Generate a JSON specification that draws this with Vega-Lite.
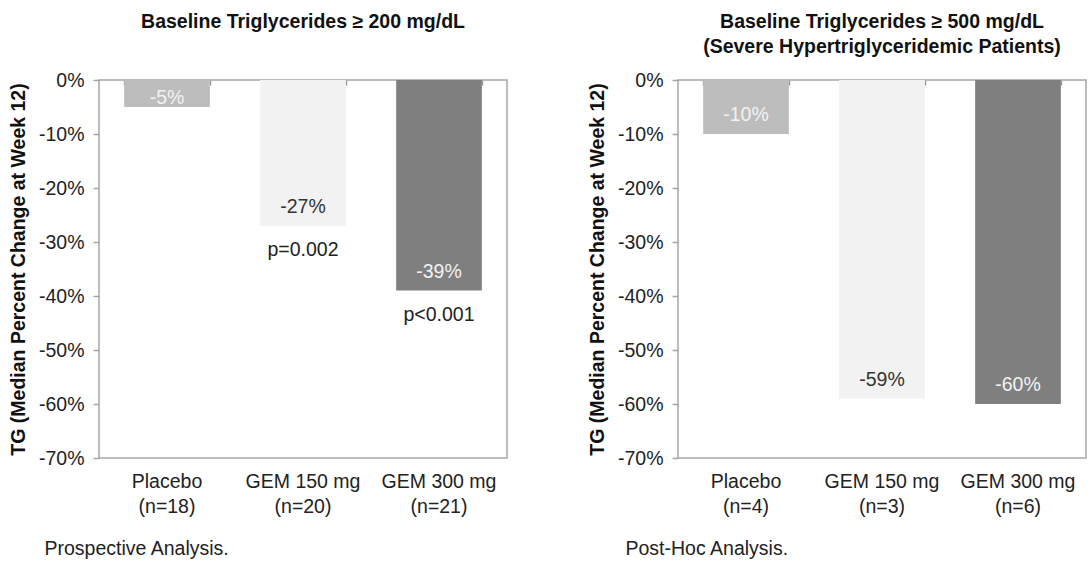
{
  "$schema": "https://vega.github.io/schema/vega-lite/v6.json",
  "background": "white",
  "padding": {"left": 7, "top": 10, "right": 2, "bottom": 2},
  "datasets": {
    "prospective": [
      {"arm": "Placebo", "group": "Placebo (n=18)", "change": -5, "p": null},
      {"arm": "GEM 150 mg", "group": "GEM 150 mg (n=20)", "change": -27, "p": "p=0.002"},
      {"arm": "GEM 300 mg", "group": "GEM 300 mg (n=21)", "change": -39, "p": "p<0.001"}
    ],
    "posthoc": [
      {"arm": "Placebo", "group": "Placebo (n=4)", "change": -10, "p": null},
      {"arm": "GEM 150 mg", "group": "GEM 150 mg (n=3)", "change": -59, "p": null},
      {"arm": "GEM 300 mg", "group": "GEM 300 mg (n=6)", "change": -60, "p": null}
    ]
  },
  "spacing": 78,
  "hconcat": [
    {
      "width": 408,
      "height": 378,
      "title": {"text": ["Baseline Triglycerides ≥ 200 mg/dL", ""]},
      "data": {"name": "prospective"},
      "transform": [{"calculate": "datum.change + '%'", "as": "valueLabel"}],
      "encoding": {
        "y": {"field": "change", "type": "quantitative",
          "scale": {"domain": [-70, 0], "nice": false},
          "axis": {"values": [0, -10, -20, -30, -40, -50, -60, -70], "labelExpr": "datum.value + '%'",
            "tickSize": 6, "labelPadding": 9,
            "title": "TG (Median Percent Change at Week 12)", "titleX": -81, "titleY": 189,
            "titleAngle": -90, "titleBaseline": "middle", "titleAlign": "center",
            "titleFontSize": 19.5, "titleFontWeight": "bold", "titleColor": "#111"}}
      },
      "layer": [
        {
          "encoding": {
            "x": {"field": "group", "type": "nominal", "sort": null,
              "scale": {"paddingInner": 0.37, "paddingOuter": 0.185},
              "axis": {"orient": "bottom", "ticks": false, "domain": false, "labelAngle": 0,
                "labelExpr": "[split(datum.label, ' (')[0], '(' + split(datum.label, ' (')[1]]",
                "labelBaseline": "top", "labelPadding": 14, "labelLineHeight": 25,
                "title": "Prospective Analysis.", "titleAnchor": "start", "titleX": -55, "titleY": 90,
                "titleBaseline": "middle", "titleFontWeight": "normal", "titleFontSize": 19.5, "titleColor": "#222"}}
          },
          "layer": [
            {
              "mark": {"type": "bar"},
              "encoding": {
                "color": {"field": "arm", "type": "nominal",
                  "scale": {"domain": ["Placebo", "GEM 150 mg", "GEM 300 mg"], "range": ["#bdbdbd", "#f2f2f2", "#7f7f7f"]},
                  "legend": null}
              }
            },
            {
              "transform": [{"filter": "datum.change <= -8"}],
              "mark": {"type": "text", "dy": -19, "baseline": "middle", "fontSize": 19.5},
              "encoding": {
                "text": {"field": "valueLabel"},
                "color": {"condition": {"test": "datum.arm === 'GEM 150 mg'", "value": "#333333"}, "value": "#f2f2f2"}
              }
            },
            {
              "transform": [{"filter": "datum.change > -8"}],
              "mark": {"type": "text", "dy": -9, "baseline": "middle", "fontSize": 19.5},
              "encoding": {
                "text": {"field": "valueLabel"},
                "color": {"condition": {"test": "datum.arm === 'GEM 150 mg'", "value": "#333333"}, "value": "#f2f2f2"}
              }
            }
          ]
        },
        {
          "transform": [{"filter": "datum.p != null"}],
          "mark": {"type": "text", "dy": 24, "baseline": "middle", "fontSize": 19.5, "color": "#222222"},
          "encoding": {
            "x": {"field": "group", "type": "nominal", "sort": null,
              "axis": {"orient": "top", "labels": false, "domain": false, "ticks": true, "tickSize": -5, "tickBand": "extent", "tickColor": "#999999", "title": null, "minExtent": 0}},
            "text": {"field": "p"}
          }
        }
      ]
    },
    {
      "width": 408,
      "height": 378,
      "title": {"text": ["Baseline Triglycerides ≥ 500 mg/dL", "(Severe Hypertriglyceridemic Patients)"]},
      "data": {"name": "posthoc"},
      "transform": [{"calculate": "datum.change + '%'", "as": "valueLabel"}],
      "encoding": {
        "y": {"field": "change", "type": "quantitative",
          "scale": {"domain": [-70, 0], "nice": false},
          "axis": {"values": [0, -10, -20, -30, -40, -50, -60, -70], "labelExpr": "datum.value + '%'",
            "tickSize": 6, "labelPadding": 9,
            "title": "TG (Median Percent Change at Week 12)", "titleX": -81, "titleY": 189,
            "titleAngle": -90, "titleBaseline": "middle", "titleAlign": "center",
            "titleFontSize": 19.5, "titleFontWeight": "bold", "titleColor": "#111"}}
      },
      "layer": [
        {
          "encoding": {
            "x": {"field": "group", "type": "nominal", "sort": null,
              "scale": {"paddingInner": 0.37, "paddingOuter": 0.185},
              "axis": {"orient": "bottom", "ticks": false, "domain": false, "labelAngle": 0,
                "labelExpr": "[split(datum.label, ' (')[0], '(' + split(datum.label, ' (')[1]]",
                "labelBaseline": "top", "labelPadding": 14, "labelLineHeight": 25,
                "title": "Post-Hoc Analysis.", "titleAnchor": "start", "titleX": -53, "titleY": 90,
                "titleBaseline": "middle", "titleFontWeight": "normal", "titleFontSize": 19.5, "titleColor": "#222"}}
          },
          "layer": [
            {
              "mark": {"type": "bar"},
              "encoding": {
                "color": {"field": "arm", "type": "nominal",
                  "scale": {"domain": ["Placebo", "GEM 150 mg", "GEM 300 mg"], "range": ["#bdbdbd", "#f2f2f2", "#7f7f7f"]},
                  "legend": null}
              }
            }
          ]
        },
        {
          "mark": {"type": "text", "dy": -19, "baseline": "middle", "fontSize": 19.5},
          "encoding": {
            "x": {"field": "group", "type": "nominal", "sort": null,
              "axis": {"orient": "top", "labels": false, "domain": false, "ticks": true, "tickSize": -5, "tickBand": "extent", "tickColor": "#999999", "title": null, "minExtent": 0}},
            "text": {"field": "valueLabel"},
            "color": {"condition": {"test": "datum.arm === 'GEM 150 mg'", "value": "#333333"}, "value": "#f2f2f2"}
          }
        }
      ]
    }
  ],
  "config": {
    "font": "Liberation Sans",
    "view": {"stroke": "#a6a6a6", "strokeWidth": 1.5},
    "axis": {"labelFont": "Liberation Sans", "labelFontSize": 19.5, "labelColor": "#222222", "grid": false,
      "tickColor": "#a6a6a6", "tickWidth": 1.5, "domain": false, "titleFont": "Liberation Sans"},
    "title": {"font": "Liberation Sans", "fontSize": 19.5, "fontWeight": "bold", "color": "#111111",
      "lineHeight": 25, "anchor": "middle", "frame": "group", "offset": 13},
    "text": {"font": "Liberation Sans"}
  }
}
